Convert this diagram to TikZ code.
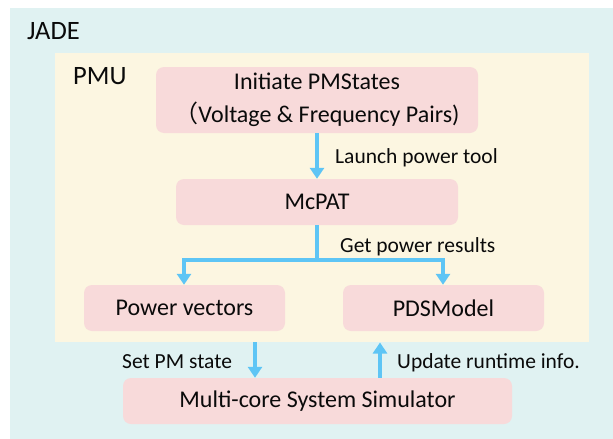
\documentclass[tikz,border=0pt]{standalone}
\usepackage{fontspec}
\setmainfont{Carlito}
\newfontfamily\cjk{Noto Sans CJK SC}
\usetikzlibrary{arrows.meta}
\definecolor{jadebg}{RGB}{224,242,242}
\definecolor{pmubg}{RGB}{252,246,225}
\definecolor{boxpink}{RGB}{248,218,218}
\definecolor{flowblue}{RGB}{94,197,245}
\definecolor{ink}{RGB}{10,10,10}
\tikzset{
  stepbox/.style={fill=boxpink, draw=none, rounded corners=8pt, inner sep=0pt,
    text=ink, font=\fontsize{24}{33}\selectfont, align=center},
  flow/.style={draw=flowblue, line width=3.6pt,
    -{Triangle[width=14pt,length=11pt]}},
  link/.style={draw=flowblue, line width=3.6pt},
  lbl/.style={anchor=base west, inner sep=0pt, text=ink, font=\fontsize{21.5}{26}\selectfont},
  title/.style={anchor=base west, inner sep=0pt, text=ink, font=\fontsize{26.5}{30}\selectfont}
}
\begin{document}
\begin{tikzpicture}[x=1pt,y=-1pt]
\useasboundingbox (0,0) rectangle (613,439);
\fill[white] (0,0) rectangle (613,439);
% containers
\fill[jadebg] (10,8) rectangle (613,439);
\node[title] (jade) at (27,39.5) {JADE};
\node[fill=pmubg, minimum width=534pt, minimum height=289pt, inner sep=0pt, anchor=north west] (pmu) at (55,53) {};
\node[title] (pmulbl) at (73,84.5) {PMU};
% process boxes
\node[stepbox, minimum width=322pt, minimum height=66pt] (init) at (317,100)
  {Initiate PMStates\\{\cjk （}Voltage \& Frequency Pairs)};
\node[stepbox, minimum width=282pt, minimum height=46pt] (mcpat) at (317,202) {McPAT};
\node[stepbox, minimum width=201pt, minimum height=46pt] (pv) at (184.5,308) {Power vectors};
\node[stepbox, minimum width=201pt, minimum height=46pt] (pds) at (443.5,308) {PDSModel};
\node[stepbox, minimum width=389pt, minimum height=46pt] (sim) at (317.5,401) {Multi-core System Simulator};
% connectors
\draw[flow] (init.south) -- (mcpat.north);
\coordinate (split) at (317,260);
\draw[link] (mcpat.south) -- (split);
\draw[flow] (split) -| ([xshift=-0.5pt]pv.north);
\draw[flow] (split) -| ([xshift=-0.5pt]pds.north);
\coordinate (setsrc) at (255,342);
\coordinate (updtgt) at (380,342.5);
\draw[flow] (setsrc) -- (setsrc |- sim.north);
\draw[flow] (updtgt |- sim.north) -- (updtgt);
% labels
\node[lbl] (l1) at (335,163) {Launch power tool};
\node[lbl] (l2) at (340,252) {Get power results};
\node[lbl] (l3) at (122,368) {Set PM state};
\node[lbl] (l4) at (397,368) {Update runtime info.};
\end{tikzpicture}
\end{document}
